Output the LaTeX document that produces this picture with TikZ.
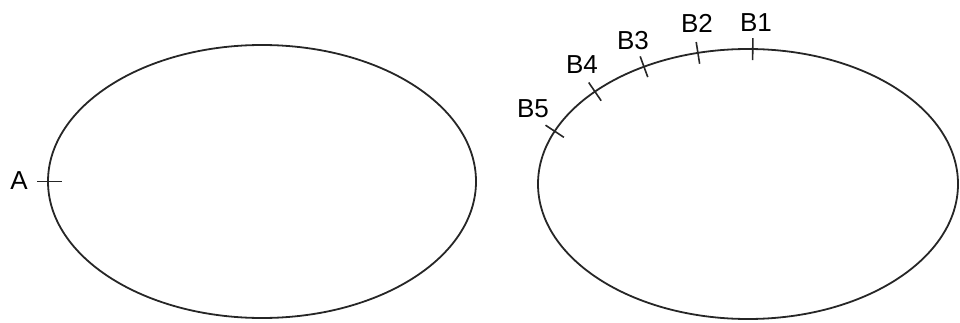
\documentclass[tikz,border=0pt]{standalone}
\usepackage{fontspec}
\setmainfont{Liberation Sans}
\usetikzlibrary{calc}
\begin{document}
\begin{tikzpicture}[x=1pt,y=1pt,
  curve/.style={draw=black!85,line width=1.8pt},
  tick/.style={draw=black!85,line width=1.6pt},
  lab/.style={font=\fontsize{26}{26}\selectfont,inner sep=0pt}]
\useasboundingbox (0,0) rectangle (960,322);
% left ellipse
\coordinate (cl) at (262,140.5);
\draw[curve] (cl) ellipse [x radius=214, y radius=136.5];
\coordinate (A) at (48,140.5);
\draw[tick] ($(A)+(-11,0)$) -- ($(A)+(14,0)$);
\node[lab] (la) at (19,141) {A};
% right ellipse
\coordinate (cr) at (748,138);
\draw[curve] (cr) ellipse [x radius=210, y radius=135];
\foreach \t/\k/\lx/\ly in {88.7/1/756/299, 103.8/2/697/299, 119.7/3/633/281, 136.8/4/582/257, 157/5/533/213}{
  \pgfmathsetmacro\ang{atan2(1.5556*sin(\t),cos(\t))}
  \coordinate (B\k) at ({748+210*cos(\t)},{138+135*sin(\t)});
  \draw[tick] ($(B\k)+(\ang:11)$) -- ($(B\k)+(\ang+180:11)$);
  \node[lab] (lb\k) at (\lx,\ly) {B\k};
}
\end{tikzpicture}
\end{document}
